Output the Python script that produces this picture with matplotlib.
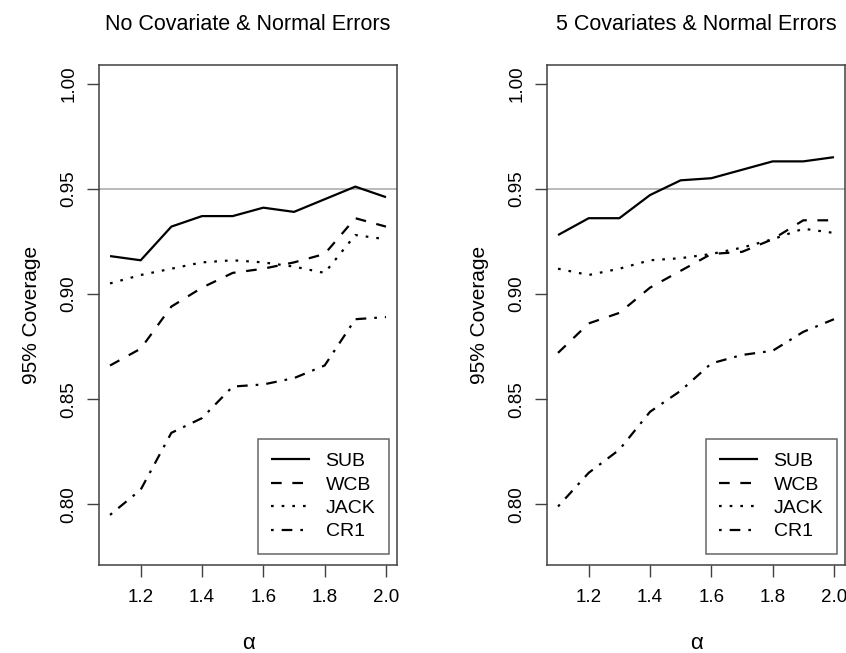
"""Coverage of 95% intervals vs alpha, two covariate settings (R-style base plot)."""

import matplotlib
matplotlib.use("Agg")
import matplotlib.pyplot as plt

plt.rcParams["font.family"] = ["Liberation Sans", "DejaVu Sans"]

ALPHA = [1.1, 1.2, 1.3, 1.4, 1.5, 1.6, 1.7, 1.8, 1.9, 2.0]

# panel 1: no covariate
SUB_1 = [0.918, 0.916, 0.932, 0.937, 0.937, 0.941, 0.939, 0.945, 0.951, 0.946]
WCB_1 = [0.866, 0.874, 0.894, 0.903, 0.910, 0.912, 0.915, 0.919, 0.936, 0.932]
JACK_1 = [0.905, 0.909, 0.912, 0.915, 0.916, 0.915, 0.913, 0.910, 0.928, 0.926]
CR1_1 = [0.795, 0.807, 0.834, 0.841, 0.856, 0.857, 0.860, 0.866, 0.888, 0.889]

# panel 2: 5 covariates
SUB_2 = [0.928, 0.936, 0.936, 0.947, 0.954, 0.955, 0.959, 0.963, 0.963, 0.965]
WCB_2 = [0.872, 0.886, 0.891, 0.903, 0.911, 0.919, 0.920, 0.926, 0.935, 0.935]
JACK_2 = [0.912, 0.909, 0.912, 0.916, 0.917, 0.919, 0.922, 0.926, 0.931, 0.929]
CR1_2 = [0.799, 0.815, 0.826, 0.844, 0.854, 0.867, 0.871, 0.873, 0.882, 0.888]

TITLES = ["No Covariate & Normal Errors", "5 Covariates & Normal Errors"]
METHODS = ["SUB", "WCB", "JACK", "CR1"]
Y_TICKS = [0.80, 0.85, 0.90, 0.95, 1.00]
X_TICKS = [1.2, 1.4, 1.6, 1.8, 2.0]
NOMINAL = 0.95

# R lty 1..4 approximated as matplotlib dash patterns
DASHES = [None, (4.8, 4.8), (1.2, 3.6), (1.2, 3.6, 4.8, 3.6)]
BOX = "#404040"


def draw_panel(ax, title, series):
    ax.axhline(NOMINAL, color="#b4b4b4", lw=1.3, zorder=1)
    for name, ys, dash in zip(METHODS, series, DASHES):
        (ln,) = ax.plot(ALPHA, ys, color="black", lw=1.6, label=name,
                        solid_capstyle="butt", dash_capstyle="butt")
        if dash is not None:
            ln.set_dashes(dash)

    ax.set_xlim(1.064, 2.036)
    ax.set_ylim(0.7712, 1.0088)
    ax.set_xticks(X_TICKS)
    ax.set_xticklabels([f"{v:.1f}" for v in X_TICKS])
    ax.set_yticks(Y_TICKS)
    ax.set_yticklabels([f"{v:.2f}" for v in Y_TICKS], rotation=90, va="center")
    ax.tick_params(axis="both", length=8.5, width=1, color=BOX, labelsize=13.5)
    ax.tick_params(axis="x", pad=9)
    ax.tick_params(axis="y", pad=7)
    for sp in ax.spines.values():
        sp.set_color(BOX)
        sp.set_linewidth(1.1)

    ax.set_title(title, fontsize=15.5, pad=25)
    ax.set_xlabel("\u03b1", fontsize=16, labelpad=19)
    ax.set_ylabel("95% Coverage", fontsize=15, labelpad=14)

    leg = ax.legend(loc="lower right", bbox_to_anchor=(0.973, 0.022),
                    borderaxespad=0, fancybox=False, edgecolor=BOX,
                    fontsize=14, handlelength=2.0, handletextpad=0.8,
                    labelspacing=0.3, borderpad=0.7)
    leg.get_frame().set_linewidth(1.1)


def main():
    fig = plt.figure(figsize=(8.46, 6.53), dpi=100)
    bottom = 88 / 653
    height = 500 / 653
    width = 298 / 846
    ax1 = fig.add_axes([99 / 846, bottom, width, height])
    ax2 = fig.add_axes([547 / 846, bottom, width, height])

    draw_panel(ax1, TITLES[0], [SUB_1, WCB_1, JACK_1, CR1_1])
    draw_panel(ax2, TITLES[1], [SUB_2, WCB_2, JACK_2, CR1_2])

    fig.savefig("out.png", dpi=100, facecolor="white")


if __name__ == "__main__":
    main()
